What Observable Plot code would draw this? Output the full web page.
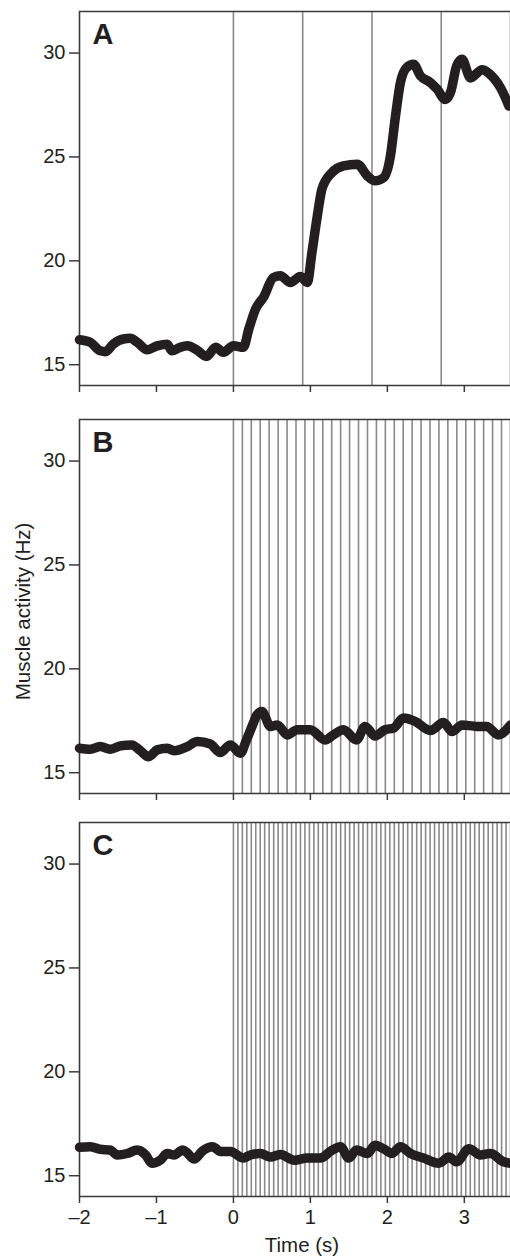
<!DOCTYPE html>
<html>
<head>
<meta charset="utf-8">
<script src="https://cdn.jsdelivr.net/npm/d3@7"></script>
<script src="https://cdn.jsdelivr.net/npm/@observablehq/plot@0.6"></script>
<style>
  html, body { margin: 0; padding: 0; background: #fff; }
  #chart svg { display: block; overflow: hidden; }
</style>
</head>
<body>
<div id="chart"></div>
<script>
// ---------- data ----------
const panelLetters = ["A", "B", "C"];
const yLabel = "Muscle activity (Hz)";
const xLabel = "Time (s)";
const xTicks = [-2, -1, 0, 1, 2, 3];
const xTickLabels = ["\u20132", "\u20131", "0", "1", "2", "3"];
const yTicks = [15, 20, 25, 30];
const yTickLabels = ["15", "20", "25", "30"];

// Panel A trace
const timeA = [-2,-1.86,-1.73,-1.66,-1.56,-1.43,-1.34,-1.25,-1.12,-0.99,-0.86,-0.8,-0.69,-0.6,-0.48,-0.35,-0.23,-0.13,0,0.13,0.2,0.29,0.39,0.52,0.61,0.74,0.87,0.96,1.02,1.09,1.15,1.28,1.43,1.61,1.74,1.84,1.95,2.04,2.1,2.17,2.25,2.34,2.43,2.56,2.65,2.75,2.82,2.9,2.97,3.08,3.23,3.38,3.47,3.58];
const activityA = [16.2,16.08,15.67,15.63,16.0,16.24,16.27,16.08,15.72,15.91,15.99,15.67,15.84,15.91,15.72,15.4,15.84,15.6,15.91,15.84,16.72,17.7,18.24,19.2,19.28,18.96,19.25,18.96,20.4,22.16,23.45,24.25,24.57,24.65,24.09,23.85,24.0,25.05,26.8,28.58,29.3,29.46,28.9,28.58,28.25,27.77,28.1,29.38,29.7,28.8,29.2,28.8,28.33,27.45];

// Panel B trace
const timeB = [-2,-1.86,-1.73,-1.6,-1.47,-1.32,-1.21,-1.1,-0.99,-0.86,-0.77,-0.6,-0.47,-0.3,-0.17,-0.04,0.09,0.17,0.26,0.3,0.37,0.48,0.57,0.7,0.83,1.0,1.19,1.3,1.43,1.6,1.71,1.84,1.97,2.08,2.21,2.36,2.56,2.73,2.84,2.97,3.16,3.29,3.44,3.6];
const activityB = [16.18,16.13,16.26,16.13,16.29,16.34,16.06,15.77,16.1,16.18,16.06,16.26,16.5,16.38,15.97,16.34,15.94,16.58,17.4,17.75,17.95,17.23,17.3,16.82,17.07,17.07,16.58,16.82,17.07,16.58,17.23,16.77,17.07,17.15,17.63,17.47,17.03,17.42,16.98,17.3,17.23,17.23,16.82,17.3];

// Panel C trace
const timeC = [-2,-1.86,-1.73,-1.6,-1.51,-1.38,-1.25,-1.14,-1.06,-0.95,-0.86,-0.77,-0.66,-0.6,-0.51,-0.4,-0.27,-0.17,-0.04,0.13,0.22,0.35,0.48,0.61,0.79,0.96,1.13,1.26,1.39,1.5,1.6,1.74,1.84,1.95,2.06,2.17,2.3,2.47,2.67,2.8,2.9,3.06,3.21,3.34,3.51,3.6];
const activityC = [16.37,16.4,16.27,16.24,16.0,16.07,16.24,16.0,15.6,15.75,16.07,16.0,16.24,16.1,15.8,16.2,16.4,16.17,16.17,15.85,16.0,16.07,15.9,16.02,15.75,15.85,15.85,16.17,16.4,15.85,16.24,16.07,16.47,16.3,16.07,16.4,16.07,15.85,15.6,15.9,15.67,16.3,16.0,16.07,15.67,15.6];

// Stimulus times (vertical lines)
const stimA = [0, 0.9, 1.8, 2.7, 3.6];
const stimB = [0,0.116,0.232,0.348,0.464,0.581,0.697,0.813,0.929,1.045,1.161,1.277,1.393,1.509,1.625,1.742,1.858,1.974,2.09,2.206,2.322,2.438,2.554,2.67,2.786,2.903,3.019,3.135,3.251,3.367,3.483,3.599];
const stimC = [0,0.058,0.116,0.174,0.232,0.290,0.348,0.406,0.464,0.523,0.581,0.639,0.697,0.755,0.813,0.871,0.929,0.987,1.045,1.103,1.161,1.219,1.277,1.335,1.393,1.452,1.510,1.568,1.626,1.684,1.742,1.800,1.858,1.916,1.974,2.032,2.090,2.148,2.206,2.264,2.322,2.381,2.439,2.497,2.555,2.613,2.671,2.729,2.787,2.845,2.903,2.961,3.019,3.077,3.135,3.193,3.252,3.310,3.368,3.426,3.484,3.542,3.600];

// ---------- drawing ----------
const INK = "#231f20";
const FRAME = "#3a3a3a";
const GRAY = "#8a8a8a";
const FONT = "Arial, 'Liberation Sans', Helvetica, sans-serif";
const TICK_FONT = 20;

function panel({letter, times, values, stims, height, marginTop, marginBottom, showXLabels, showYLabel, showXTitle}) {
  const data = times.map((t, i) => ({t, v: values[i]}));
  const marks = [
    Plot.ruleX(stims, {x: d => d, stroke: GRAY, strokeWidth: 1.6}),
    Plot.ruleX([-2], {stroke: FRAME, strokeWidth: 1.6}),
    Plot.ruleY([14, 32], {stroke: FRAME, strokeWidth: 1.6}),
    Plot.line(data, {x: "t", y: "v", stroke: INK, strokeWidth: 9.5, curve: "monotone-x", strokeLinecap: "round", strokeLinejoin: "round"}),
    // tick marks (labels drawn as text marks below)
    Plot.axisY({ticks: yTicks, tickSize: 10, tickFormat: () => "", label: null, stroke: FRAME, strokeWidth: 1.5}),
    Plot.axisX({ticks: xTicks, tickSize: 7, tickFormat: () => "", label: null, stroke: FRAME, strokeWidth: 1.5}),
    Plot.text(yTicks, {y: d => d, text: (d, i) => yTickLabels[i], frameAnchor: "left", dx: -14, textAnchor: "end", lineAnchor: "middle", fontSize: TICK_FONT, fill: INK}),
    Plot.text([letter], {frameAnchor: "top-left", dx: 13, dy: 12, textAnchor: "start", lineAnchor: "top", fontSize: 29, fontWeight: "bold", fill: INK})
  ];
  if (showXLabels) {
    marks.push(Plot.text(xTicks, {x: d => d, text: (d, i) => xTickLabels[i], frameAnchor: "bottom", dy: 13, textAnchor: "middle", lineAnchor: "top", fontSize: TICK_FONT, fill: INK}));
  }
  if (showYLabel) {
    marks.push(Plot.text([yLabel], {frameAnchor: "left", dx: -56, dy: 5, rotate: -90, textAnchor: "middle", lineAnchor: "middle", fontSize: 20.5, fill: INK}));
  }
  if (showXTitle) {
    marks.push(Plot.text([xLabel], {frameAnchor: "bottom", dx: 7, dy: 49, textAnchor: "middle", lineAnchor: "middle", fontSize: 20.5, fill: INK}));
  }
  return Plot.plot({
    width: 510,
    height,
    marginLeft: 79,
    marginRight: 0,
    marginTop,
    marginBottom,
    style: {fontFamily: FONT, background: "#fff", color: INK},
    x: {domain: [-2, 3.6], axis: null},
    y: {domain: [14, 32], axis: null},
    marks
  });
}

const chart = document.getElementById("chart");
chart.appendChild(panel({letter: panelLetters[0], times: timeA, values: activityA, stims: stimA, height: 405, marginTop: 11, marginBottom: 20, showXLabels: false}));
chart.appendChild(panel({letter: panelLetters[1], times: timeB, values: activityB, stims: stimB, height: 403, marginTop: 14, marginBottom: 15, showXLabels: false, showYLabel: true}));
chart.appendChild(panel({letter: panelLetters[2], times: timeC, values: activityC, stims: stimC, height: 450, marginTop: 14, marginBottom: 62, showXLabels: true, showXTitle: true}));
</script>
</body>
</html>
